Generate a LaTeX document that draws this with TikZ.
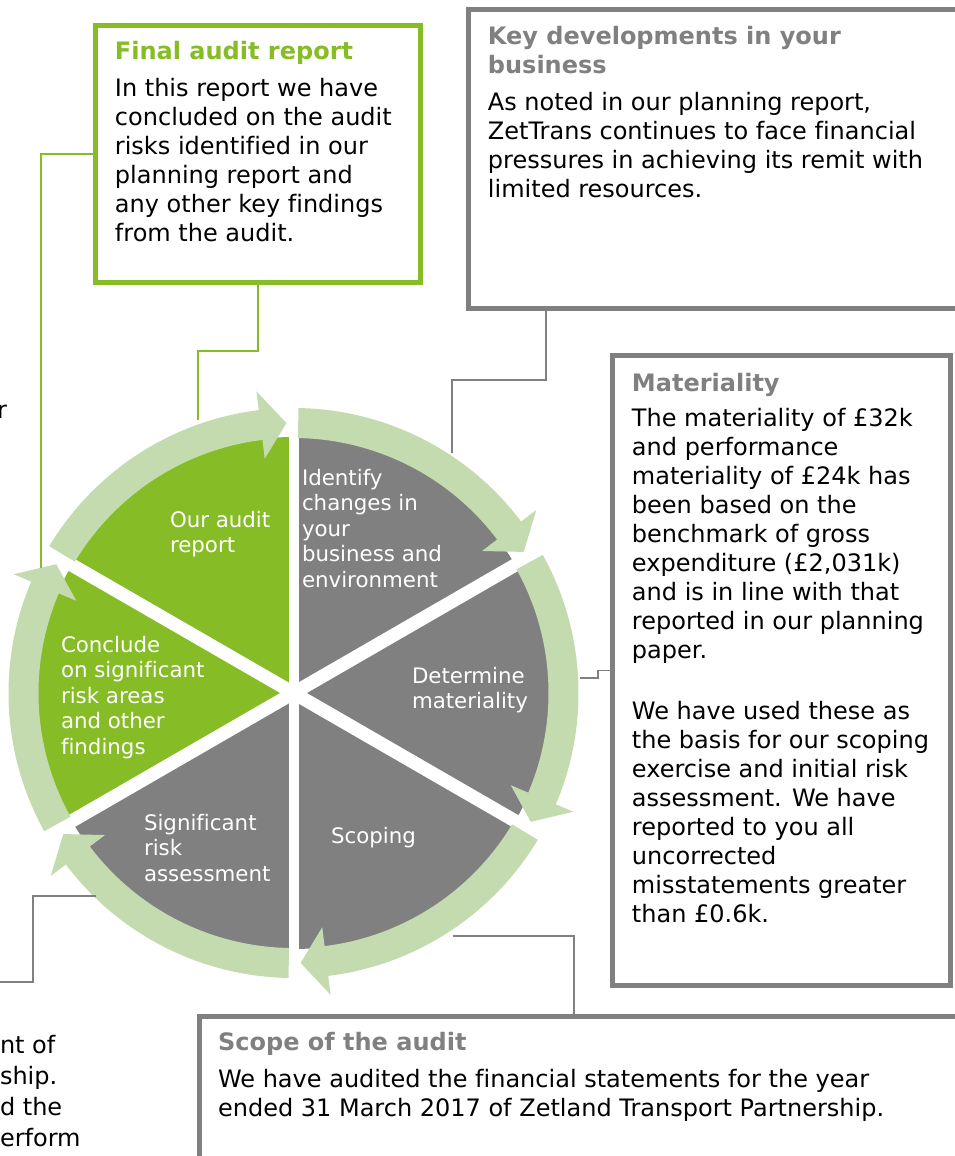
\documentclass[tikz,border=0pt]{standalone}
\usepackage{fontspec}
\setmainfont[Ligatures=NoCommon]{DejaVu Sans}
\usetikzlibrary{positioning}
\definecolor{auditgreen}{HTML}{86BC25}
\definecolor{ringgreen}{HTML}{C4DBB0}
\definecolor{auditgrey}{HTML}{808080}

\begin{document}
\begin{tikzpicture}[x=0.75pt, y=-0.75pt,
		every node/.style={inner sep=0pt, outer sep=0pt},
		greenbox/.style={draw=auditgreen, line width=3.75pt, rectangle},
		greybox/.style={draw=auditgrey, line width=3.75pt, rectangle},
		boxtext/.style={align=left, anchor=north west, font=\fontsize{18}{21.75}\selectfont},
		steptext/.style={align=left, anchor=north west, text=white, font=\fontsize{16}{19.1}\selectfont},
		greenlink/.style={draw=auditgreen, line width=1.3pt},
		greylink/.style={draw=auditgrey, line width=1.3pt},
		]
	\useasboundingbox (0,0) rectangle (954,1156);
	
	% the cycle
	\coordinate (hub) at (293.5,693);
	\begin{scope}[shift={(hub)}, x=0.75pt, y=0.75pt]
		\fill[auditgrey] (0,0) -- (90:256) arc[start angle=90, end angle=30, radius=256] -- cycle;
		\fill[auditgrey] (0,0) -- (30:256) arc[start angle=30, end angle=-30, radius=256] -- cycle;
		\fill[auditgrey] (0,0) -- (-30:256) arc[start angle=-30, end angle=-90, radius=256] -- cycle;
		\fill[auditgrey] (0,0) -- (-90:256) arc[start angle=-90, end angle=-150, radius=256] -- cycle;
		\fill[auditgreen] (0,0) -- (210:256) arc[start angle=210, end angle=150, radius=256] -- cycle;
		\fill[auditgreen] (0,0) -- (150:256) arc[start angle=150, end angle=90, radius=256] -- cycle;
		\draw[white, line width=7.5pt] (90:258) -- (-90:258);
		\draw[white, line width=10pt] (30:258) -- (210:258);
		\draw[white, line width=10pt] (150:258) -- (-30:258);
		\foreach \b in {90,30,-30,-90,-150,-210} {
			\pgfmathsetmacro\t{\b-1}
			\pgfmathsetmacro\e{\b-58.5}
			\pgfmathsetmacro\h{\b-53}
			\fill[ringgreen] (\t:255) arc[start angle=\t, end angle=\h, radius=255] -- (\h:236) -- (\e:270)
				-- (\h:304) -- (\h:285) arc[start angle=\h, end angle=\t, radius=285] -- cycle;
		}
	\end{scope}
	
	\node[steptext] (identify) at (302,469) {Identify\\changes in\\your\\business and\\environment};
	\node[steptext] (determine) at (412,667) {Determine\\materiality};
	\node[steptext] (scoping) at (331,827) {Scoping};
	\node[steptext] (sigrisk) at (144,814) {Significant\\risk\\assessment};
	\node[steptext] (conclude) at (61,636) {Conclude\\on significant\\risk areas\\and other\\findings};
	\node[steptext] (ourreport) at (170,511) {Our audit\\report};
	
	% boxes round the cycle
	\node[greenbox, minimum width=243.4pt, minimum height=193.1pt] (fin) at (257.75,154.25) {};
	\node[greybox, minimum width=387.4pt, minimum height=223.5pt] (key) at (726.75,159) {};
	\node[greybox, minimum width=253.5pt, minimum height=472.5pt] (mat) at (781.5,670.5) {};
	\node[greybox, minimum width=600.75pt, minimum height=106.5pt] (scope) at (599.5,1087) {};
	
	\node[boxtext, below right=11.5pt and 14.6pt of fin.north west] (fintext)
		{{\bfseries\color{auditgreen}Final audit report}\\[6.5pt]In this report we have\\concluded on the audit\\risks identified in our\\planning report and\\any other key findings\\from the audit.};
	\node[boxtext, below right=12.5pt and 14.6pt of key.north west] (keytext)
		{{\bfseries\color{auditgrey}Key developments in your}\\{\bfseries\color{auditgrey}business}\\[6pt]As noted in our planning report,\\ZetTrans continues to face financial\\pressures in achieving its remit with\\limited resources.};
	\node[boxtext, below right=13pt and 14.6pt of mat.north west] (mattext)
		{{\bfseries\color{auditgrey}Materiality}\\[5pt]The materiality of £32k\\and performance\\materiality of £24k has\\been based on the\\benchmark of gross\\expenditure (£2,031k)\\and is in line with that\\reported in our planning\\paper.\\[24pt]We have used these as\\the basis for our scoping\\exercise and initial risk\\assessment. We have\\reported to you all\\uncorrected\\misstatements greater\\than £0.6k.};
	\node[boxtext, below right=12.5pt and 14.3pt of scope.north west] (scopetext)
		{{\bfseries\color{auditgrey}Scope of the audit}\\[6pt]We have audited the financial statements for the year\\ended 31 March 2017 of Zetland Transport Partnership.};
	
	% text of boxes cut off at the left
	\node[boxtext, anchor=base east] (cutr) at (7,418) {r};
	\node[boxtext, anchor=base west] (cut1) at (0,1053) {nt of};
	\node[boxtext, anchor=base west] (cut2) at (0,1084) {ship.};
	\node[boxtext, anchor=base west] (cut3) at (0,1115) {d the};
	\node[boxtext, anchor=base west] (cut4) at (0,1146) {erform};
	
	% connectors
	\coordinate (finfoot) at (198,420);
	\coordinate (concludetip) at (41,568);
	\coordinate (identifyedge) at (452,453);
	\coordinate (materialityedge) at (580,678);
	\coordinate (scopingedge) at (453,936);
	\coordinate (riskedge) at (96,896);
	\coordinate (offleft) at (-5,982);
	\draw[greenlink] (fin.south) -- ++(0,68) -| (finfoot);
	\draw[greenlink] (fin.west) -| (concludetip);
	\draw[greylink] ([xshift=58pt]key.south west) -- ++(0,72) -| (identifyedge);
	\draw[greylink] (materialityedge) -- ++(18,0) |- (mat.west);
	\draw[greylink] (scopingedge) -| ([xshift=281.25pt]scope.north west);
	\draw[greylink] (riskedge) -- ++(-63,0) |- (offleft);
\end{tikzpicture}
\end{document}
